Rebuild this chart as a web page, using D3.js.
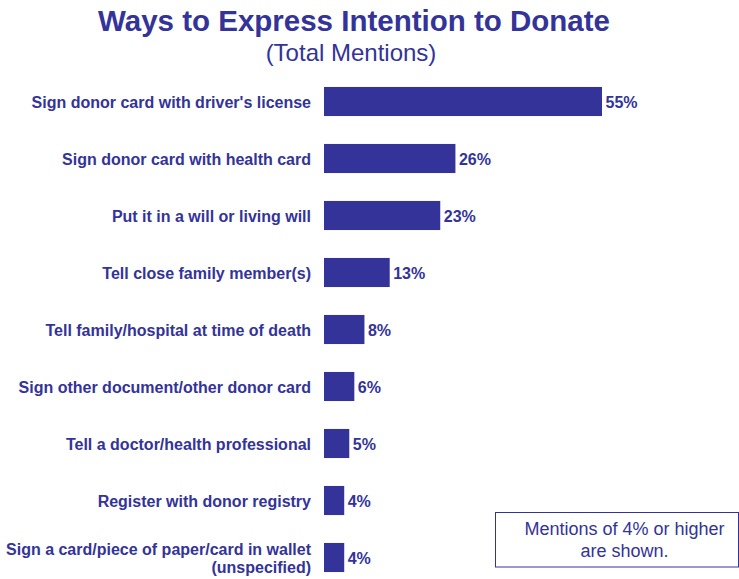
<!DOCTYPE html>
<html><head><meta charset="utf-8">
<script src="https://cdn.jsdelivr.net/npm/d3@7"></script>
<style>body{margin:0;background:#fff;}svg{display:block;font-family:"Liberation Sans",Arial,sans-serif;}</style>
</head><body>
<svg id="chart" width="739" height="579"></svg>
<script>
const categories = [
  ["Sign donor card with driver's license"],
  ["Sign donor card with health card"],
  ["Put it in a will or living will"],
  ["Tell close family member(s)"],
  ["Tell family/hospital at time of death"],
  ["Sign other document/other donor card"],
  ["Tell a doctor/health professional"],
  ["Register with donor registry"],
  ["Sign a card/piece of paper/card in wallet", "(unspecified)"]
];
const values = [55, 26, 23, 13, 8, 6, 5, 4, 4];
const title = "Ways to Express Intention to Donate";
const subtitle = "(Total Mentions)";
const noteLines = ["Mentions of 4% or higher", "are shown."];

const color = "#333399";
const svg = d3.select("#chart");

svg.append("text").attr("x", 354).attr("y", 31).attr("text-anchor", "middle")
  .attr("font-size", 29.5).attr("font-weight", "bold").attr("fill", color).text(title);
svg.append("text").attr("x", 351).attr("y", 61).attr("text-anchor", "middle")
  .attr("font-size", 24).attr("fill", color).text(subtitle);

const x = d3.scaleLinear().domain([0, 55]).range([324, 602]);
const y = d3.scaleBand().domain(d3.range(values.length)).range([73, 586]).paddingInner(0.49).paddingOuter(0.245);

const g = svg.append("g");
g.selectAll("rect").data(values).join("rect")
  .attr("x", x(0)).attr("y", (d, i) => y(i))
  .attr("width", d => x(d) - x(0)).attr("height", y.bandwidth())
  .attr("fill", color);

g.selectAll("text.val").data(values).join("text").attr("class", "val")
  .attr("x", d => x(d) + 3.5).attr("y", (d, i) => y(i) + y.bandwidth() / 2 + 6.5)
  .attr("font-size", 16).attr("font-weight", "bold").attr("fill", color)
  .text(d => d + "%");

const labels = g.selectAll("text.cat").data(categories).join("text").attr("class", "cat")
  .attr("text-anchor", "end").attr("font-size", 16).attr("font-weight", "bold").attr("fill", color);
labels.each(function(lines, i) {
  const t = d3.select(this);
  const cy = y(i) + y.bandwidth() / 2;
  const lh = 18;
  const start = cy + 6.5 - (lines.length - 1) * lh / 2;
  lines.forEach((ln, k) => {
    t.append("tspan").attr("x", 311).attr("y", start + k * lh).text(ln);
  });
});

svg.append("rect").attr("x", 495.5).attr("y", 512.5).attr("width", 243).attr("height", 54.5)
  .attr("fill", "none").attr("stroke", color).attr("stroke-width", 1);
noteLines.forEach((ln, k) => {
  svg.append("text").attr("x", 624.5).attr("y", 535 + k * 22).attr("text-anchor", "middle")
    .attr("font-size", 18).attr("fill", color).text(ln);
});
</script>
</body></html>
